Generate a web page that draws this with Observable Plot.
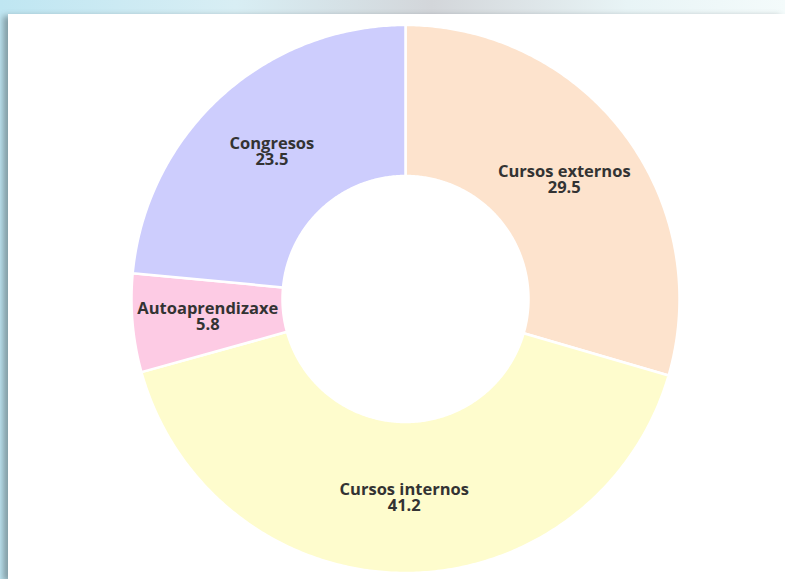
<!DOCTYPE html>
<html>
<head>
<meta charset="utf-8">
<script src="https://cdn.jsdelivr.net/npm/d3@7"></script>
<script src="https://cdn.jsdelivr.net/npm/@observablehq/plot@0.6"></script>
<style>
  html, body { margin: 0; padding: 0; }
  body {
    width: 785px; height: 579px; overflow: hidden; position: relative;
    background: linear-gradient(to right, #bfe6f2 0%, #d8eef4 30%, #d3d6da 55%, #e8f4f6 80%, #f4fbfb 100%);
  }
  #panel {
    position: absolute; left: 8px; top: 14px; width: 777px; height: 565px;
    background: #ffffff;
    box-shadow: -5px 2px 6px rgba(60,70,75,0.45);
  }
  #panel svg { display: block; }
</style>
</head>
<body>
<div id="panel"></div>
<script>
// Data (clockwise from top)
const categories = ["Cursos externos", "Cursos internos", "Autoaprendizaxe", "Congresos"];
const values = [29.5, 41.2, 5.8, 23.5];
const valueLabels = ["29.5", "41.2", "5.8", "23.5"];
const colors = ["#fde3cd", "#fefccd", "#fdcbe4", "#cdcdfd"];

// Donut geometry (unit outer radius)
const innerRatio = 123 / 274;
const pie = d3.pie().sort(null).value(d => d)(values);

const polygonPoints = [];
pie.forEach((s, i) => {
  const a0 = s.startAngle, a1 = s.endAngle;
  const n = Math.max(8, Math.ceil((a1 - a0) / 0.01));
  for (let k = 0; k <= n; k++) {
    const a = a0 + (a1 - a0) * k / n;
    polygonPoints.push({cat: categories[i], x: Math.sin(a), y: Math.cos(a)});
  }
  for (let k = n; k >= 0; k--) {
    const a = a0 + (a1 - a0) * k / n;
    polygonPoints.push({cat: categories[i], x: innerRatio * Math.sin(a), y: innerRatio * Math.cos(a)});
  }
});

const midR = (1 + innerRatio) / 2;
const labels = pie.map((s, i) => {
  const a = (s.startAngle + s.endAngle) / 2;
  return {text: categories[i] + "\n" + valueLabels[i], x: midR * Math.sin(a), y: midR * Math.cos(a)};
});

const W = 777, H = 565, cx = 397, cy = 284.5, R = 274;
const chart = Plot.plot({
  width: W,
  height: H,
  marginLeft: cx - R,
  marginRight: W - (cx + R),
  marginTop: cy - R,
  marginBottom: H - (cy + R),
  x: {domain: [-1, 1], axis: null},
  y: {domain: [-1, 1], axis: null},
  color: {domain: categories, range: colors},
  style: {background: "transparent", fontFamily: "'Open Sans', Lato, sans-serif"},
  marks: [
    Plot.line(polygonPoints, {
      x: "x", y: "y", z: "cat", fill: "cat",
      stroke: "#ffffff", strokeWidth: 2.5, strokeLinejoin: "round",
      curve: "linear-closed"
    }),
    Plot.text(labels, {
      x: "x", y: "y", text: "text",
      fill: "#333333", fontWeight: "bold", fontSize: 16.5, lineHeight: 0.98
    })
  ]
});
document.getElementById("panel").appendChild(chart);
</script>
</body>
</html>
